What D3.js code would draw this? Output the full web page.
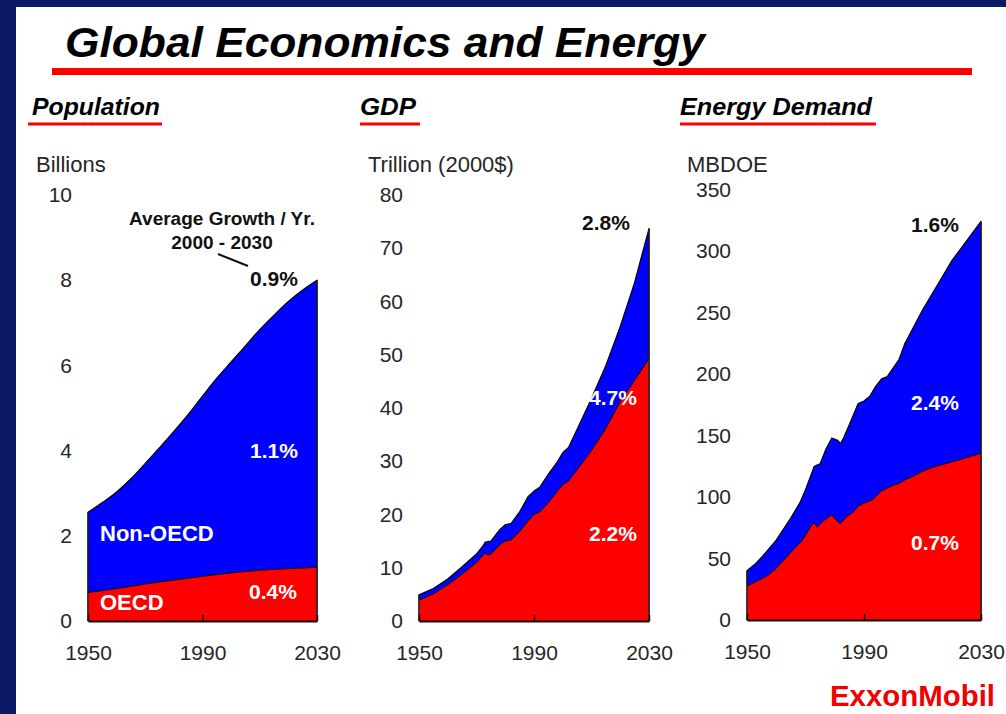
<!DOCTYPE html>
<html>
<head>
<meta charset="utf-8">
<script src="https://cdn.jsdelivr.net/npm/d3@7"></script>
<style>
  html, body { margin: 0; padding: 0; background: #ffffff; }
  svg { display: block; font-family: "Liberation Sans", Arial, sans-serif; }
</style>
</head>
<body>
<svg id="chart" width="1006" height="714"></svg>
<script>
// ---------------- DATA ----------------
const xTicks = [1950, 1990, 2030];

// Population (billions)
const popTotalYears = [1950,1955,1960,1965,1970,1975,1980,1985,1990,1995,2000,2005,2010,2015,2020,2025,2030];
const popTotal      = [2.55,2.78,3.03,3.34,3.70,4.07,4.45,4.85,5.28,5.70,6.08,6.46,6.84,7.18,7.50,7.77,8.00];
const popOECDYears  = [1950,1960,1970,1980,1990,2000,2010,2020,2030];
const popOECD       = [0.67,0.76,0.87,0.96,1.05,1.13,1.19,1.23,1.26];
const popYTicks = [0,2,4,6,8,10];

// GDP (trillion 2000$)
const gdpTotalYears = [1950,1955,1960,1965,1970,1972,1973,1975,1978,1980,1982,1985,1988,1990,1992,1995,1998,2000,2002,2005,2010,2015,2020,2025,2030];
const gdpTotal      = [4.9,6.1,7.9,10.2,12.6,13.9,14.8,15.0,17.1,18.1,18.3,20.5,23.4,24.4,25.1,27.6,29.8,31.6,32.6,36.0,41.8,48.0,55.3,63.6,73.7];
const gdpOECDYears  = [1950,1955,1960,1965,1970,1973,1974,1975,1979,1980,1982,1985,1988,1990,1992,1995,1998,2000,2002,2005,2010,2015,2020,2025,2030];
const gdpOECD       = [3.9,5.1,6.8,8.8,11.0,12.8,12.4,12.6,14.7,15.0,15.2,16.8,18.8,20.0,20.5,22.2,24.3,25.6,26.3,28.4,32.0,36.2,41.2,45.2,49.3];
const gdpYTicks = [0,10,20,30,40,50,60,70,80];

// Energy demand (MBDOE)
const enTotalYears = [1950,1953,1955,1960,1965,1968,1970,1973,1975,1977,1979,1981,1982,1983,1985,1988,1990,1992,1994,1996,1998,2000,2002,2004,2006,2010,2015,2020,2025,2030];
const enTotal      = [40,46,51,65,83,95,106,125,127,139,148,146,143.5,148,159,176,178,182,190,196,198,205,212,225,234,252,272,292,308,324];
const enOECDYears  = [1950,1955,1957,1960,1965,1969,1972,1973,1974,1976,1979,1981,1982,1984,1986,1988,1990,1993,1996,2000,2002,2004,2007,2010,2014,2020,2025,2030];
const enOECD       = [27.6,33.5,36,42,55,65,77,79,75.5,80.5,85.5,80,78.5,84,87,92.5,95,98,105,109.5,111,114,117,121,124.5,128.5,132,135.5];
const enYTicks = [0,50,100,150,200,250,300,350];

// Text labels
const mainTitle = "Global Economics and Energy";
const panelTitles = ["Population", "GDP", "Energy Demand"];
const unitLabels = ["Billions", "Trillion (2000$)", "MBDOE"];
const growthLabels = {
  pop: ["0.9%", "1.1%", "0.4%"],
  gdp: ["2.8%", "4.7%", "2.2%"],
  en:  ["1.6%", "2.4%", "0.7%"]
};

// ---------------- LAYOUT ----------------
const svg = d3.select("#chart");
const NAVY = "#0b1966", BLUE = "#0000ff", RED = "#ff0000", TXT = "#262626";

svg.append("rect").attr("x",0).attr("y",0).attr("width",1006).attr("height",714).attr("fill","#fff");
svg.append("rect").attr("x",0).attr("y",0).attr("width",1006).attr("height",7).attr("fill",NAVY);
svg.append("rect").attr("x",0).attr("y",0).attr("width",16).attr("height",714).attr("fill",NAVY);

// Title
svg.append("text").attr("x",65).attr("y",57)
  .attr("font-size",43).attr("font-weight","bold").attr("font-style","italic")
  .attr("fill","#000").attr("textLength",640).attr("lengthAdjust","spacingAndGlyphs")
  .text(mainTitle);
svg.append("rect").attr("x",52).attr("y",68).attr("width",920).attr("height",7).attr("fill",RED);

const panels = [
  { key:"pop", title:panelTitles[0], tx:32, tw:128, ux:28, uw:134, unit:unitLabels[0], unitX:36,
    x0:88, x1:317, y0:621, y1:195, max:10, yTicks:popYTicks,
    total:[popTotalYears,popTotal], oecd:[popOECDYears,popOECD], curve:d3.curveMonotoneX },
  { key:"gdp", title:panelTitles[1], tx:360, tw:56, ux:360, uw:60, unit:unitLabels[1], unitX:368,
    x0:419, x1:649, y0:621, y1:195, max:80, yTicks:gdpYTicks,
    total:[gdpTotalYears,gdpTotal], oecd:[gdpOECDYears,gdpOECD], curve:d3.curveLinear },
  { key:"en", title:panelTitles[2], tx:680, tw:192, ux:680, uw:196, unit:unitLabels[2], unitX:687,
    x0:747, x1:981, y0:620, y1:189.5, max:350, yTicks:enYTicks,
    total:[enTotalYears,enTotal], oecd:[enOECDYears,enOECD], curve:d3.curveLinear }
];

panels.forEach(p => {
  const g = svg.append("g");
  // panel title + underline
  g.append("text").attr("x",p.tx).attr("y",115)
    .attr("font-size",23).attr("font-weight","bold").attr("font-style","italic").attr("fill","#000")
    .attr("textLength",p.tw).attr("lengthAdjust","spacingAndGlyphs").text(p.title);
  g.append("rect").attr("x",p.ux).attr("y",122.5).attr("width",p.uw).attr("height",3).attr("fill",RED);
  // unit label
  g.append("text").attr("x",p.unitX).attr("y",172).attr("font-size",22).attr("fill",TXT).text(p.unit);

  const x = d3.scaleLinear().domain([1950,2030]).range([p.x0,p.x1]);
  const y = d3.scaleLinear().domain([0,p.max]).range([p.y0,p.y1]);

  const tData = p.total[0].map((yr,i)=>({yr, v:p.total[1][i]}));
  const oData = p.oecd[0].map((yr,i)=>({yr, v:p.oecd[1][i]}));

  const area = d3.area().x(d=>x(d.yr)).y0(y(0)).y1(d=>y(d.v)).curve(p.curve);
  const line = d3.line().x(d=>x(d.yr)).y(d=>y(d.v)).curve(p.curve);

  g.append("path").datum(tData).attr("d",area).attr("fill",BLUE)
    .attr("stroke","#000").attr("stroke-width",1.2).attr("stroke-linejoin","round");
  g.append("path").datum(oData).attr("d",area).attr("fill",RED);
  g.append("path").datum(oData).attr("d",line).attr("fill","none").attr("stroke","#000").attr("stroke-width",1);
  // right and left edges
  g.append("line").attr("x1",x(2030)).attr("x2",x(2030)).attr("y1",y(0)).attr("y2",y(tData[tData.length-1].v))
    .attr("stroke","#222").attr("stroke-width",1.5);
  g.append("line").attr("x1",x(1950)).attr("x2",x(1950)).attr("y1",y(0)).attr("y2",y(tData[0].v))
    .attr("stroke","#222").attr("stroke-width",1.2);

  // x axis
  const xa = g.append("g").attr("transform",`translate(0,${p.y0})`)
    .call(d3.axisBottom(x).tickValues(xTicks).tickFormat(d3.format("d")).tickSizeInner(-6).tickSizeOuter(0).tickPadding(24));
  xa.select(".domain").attr("stroke","#111").attr("stroke-width",2);
  xa.selectAll(".tick line").attr("stroke","#111").attr("stroke-width",1.5);
  xa.selectAll(".tick text").attr("font-size",21).attr("fill",TXT).attr("font-family","Liberation Sans, Arial, sans-serif");

  // y axis (labels only)
  const ya = g.append("g").attr("transform",`translate(${p.x0},0)`)
    .call(d3.axisLeft(y).tickValues(p.yTicks).tickFormat(d3.format("d")).tickSize(0).tickPadding(16));
  ya.select(".domain").remove();
  ya.selectAll(".tick text").attr("font-size",21).attr("fill",TXT).attr("font-family","Liberation Sans, Arial, sans-serif");
});

// Growth labels
function lbl(x, yy, t, col, size, anchor) {
  svg.append("text").attr("x",x).attr("y",yy).attr("font-size",size||21).attr("font-weight","bold")
    .attr("fill",col).attr("text-anchor",anchor||"start").text(t);
}
// Population
lbl(222, 225, "Average Growth / Yr.", "#111", 19, "middle");
lbl(222, 249, "2000 - 2030", "#111", 19, "middle");
svg.append("line").attr("x1",218).attr("y1",254).attr("x2",248).attr("y2",266).attr("stroke","#111").attr("stroke-width",2);
lbl(250, 286, growthLabels.pop[0], "#111");
lbl(250, 458, growthLabels.pop[1], "#fff");
lbl(249, 599, growthLabels.pop[2], "#fff");
lbl(100, 541, "Non-OECD", "#fff", 22);
lbl(100, 610, "OECD", "#fff", 22);
// GDP
lbl(582, 230, growthLabels.gdp[0], "#111");
lbl(589, 405, growthLabels.gdp[1], "#fff");
lbl(589, 541, growthLabels.gdp[2], "#fff");
// Energy
lbl(911, 232, growthLabels.en[0], "#111");
lbl(911, 410, growthLabels.en[1], "#fff");
lbl(911, 550, growthLabels.en[2], "#fff");

// Logo
svg.append("text").attr("x",830).attr("y",706).attr("font-size",29).attr("font-weight","bold")
  .attr("fill","#f20000").attr("textLength",165).attr("lengthAdjust","spacingAndGlyphs").text("ExxonMobil");
</script>
</body>
</html>
